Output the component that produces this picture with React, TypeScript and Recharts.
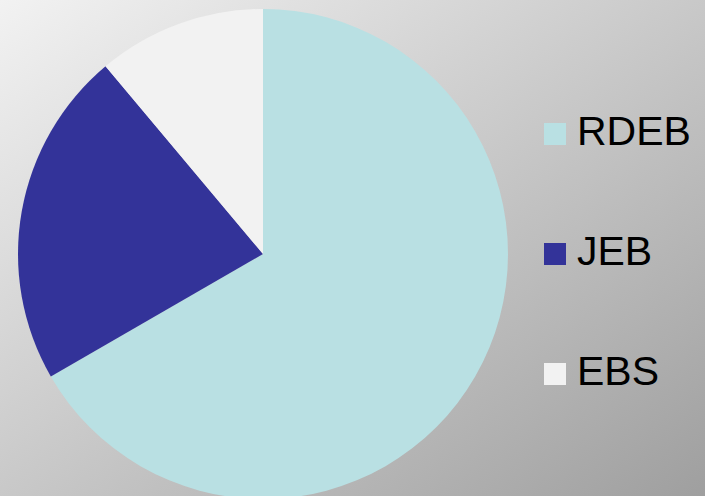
import { PieChart, Pie, Cell, Legend } from 'recharts';

const categories = ['RDEB', 'JEB', 'EBS'];
const values = [60, 20, 10];
const colors = ['#B9E0E3', '#333399', '#F2F2F2'];

const data = categories.map((name, i) => ({ name, value: values[i] }));

// legend in the same order as the categories (top to bottom)
const renderLegend = () => (
    <div>
        {categories.map((name, i) => (
            <div
                key={name}
                style={{
                    display: 'flex',
                    alignItems: 'center',
                    height: 44,
                    lineHeight: '44px',
                    marginBottom: 76,
                }}
            >
                <span
                    style={{
                        display: 'inline-block',
                        width: 22,
                        height: 22,
                        background: colors[i],
                        marginTop: 5,
                        marginRight: 11,
                    }}
                />
                <span style={{ fontSize: 41, color: '#000' }}>{name}</span>
            </div>
        ))}
    </div>
);

const App = () => {
    return (
        <div
            style={{
                width: 705,
                height: 496,
                overflow: 'hidden',
                background: 'linear-gradient(to bottom right, #f2f2f2, #9f9f9f)',
                fontFamily: '"Liberation Sans", Arial, sans-serif',
            }}
        >
            <style>{`body { margin: 0; }`}</style>
            <PieChart width={705} height={496} margin={{ top: 0, right: 0, bottom: 0, left: 0 }}>
                <Pie
                    data={data}
                    dataKey="value"
                    nameKey="name"
                    cx={263}
                    cy={254}
                    outerRadius={245}
                    startAngle={90}
                    endAngle={-270}
                    stroke="none"
                    isAnimationActive={false}
                >
                    {data.map((d, i) => (
                        <Cell key={d.name} fill={colors[i]} />
                    ))}
                </Pie>
                <Legend
                    layout="vertical"
                    align="right"
                    verticalAlign="top"
                    content={renderLegend}
                    wrapperStyle={{ position: 'absolute', left: 544, top: 109, width: 160 }}
                />
            </PieChart>
        </div>
    );
};

export default App;
